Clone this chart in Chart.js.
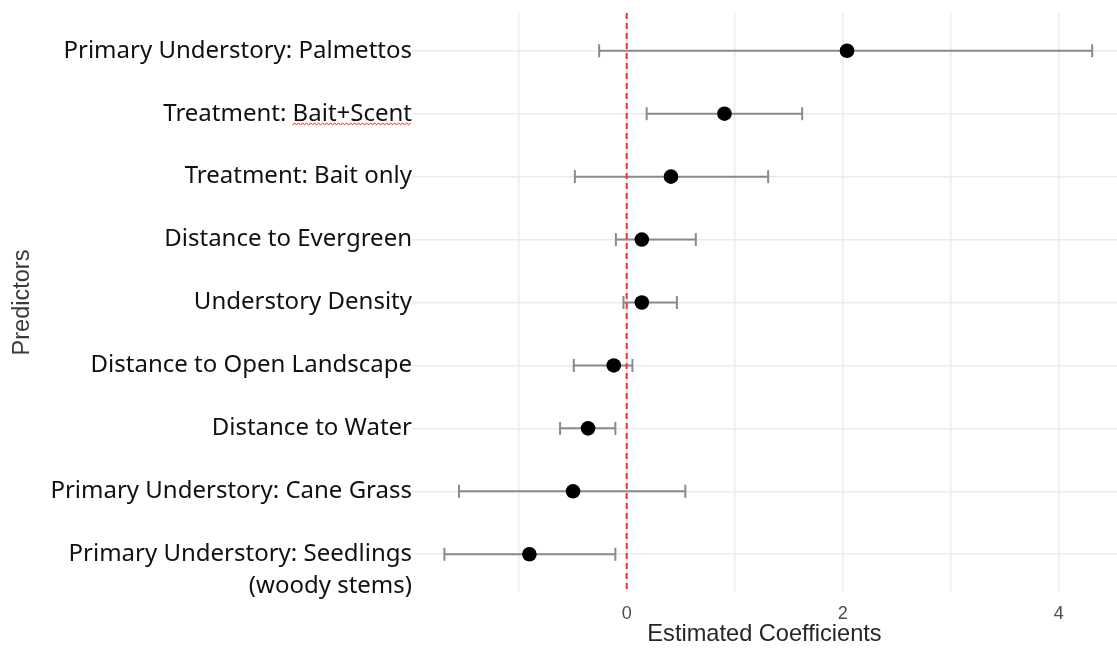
<!DOCTYPE html>
<html>
<head>
<meta charset="utf-8">
<script src="https://cdn.jsdelivr.net/npm/chart.js@4.4.1/dist/chart.umd.min.js"></script>
<style>
  html, body { margin: 0; padding: 0; background: #ffffff; }
  #wrap { width: 1117px; height: 651px; }
</style>
</head>
<body>
<div id="wrap"><canvas id="c" width="1117" height="651"></canvas></div>
<script>
// ---- data (top to bottom) ----
const predictors = [
  ['Primary Understory: Palmettos'],
  ['Treatment: Bait+Scent'],
  ['Treatment: Bait only'],
  ['Distance to Evergreen'],
  ['Understory Density'],
  ['Distance to Open Landscape'],
  ['Distance to Water'],
  ['Primary Understory: Cane Grass'],
  ['', 'Primary Understory: Seedlings', '(woody stems)']
];
const estimates = [2.04, 0.905, 0.41, 0.14, 0.14, -0.12, -0.358, -0.497, -0.901];
const lowerCI   = [-0.255, 0.185, -0.48, -0.10, -0.03, -0.49, -0.617, -1.553, -1.688];
const upperCI   = [4.31, 1.625, 1.31, 0.64, 0.465, 0.053, -0.105, 0.543, -0.105];
const xTickValues = [-1, 0, 1, 2, 3, 4];
const xTickLabels = ['', '0', '', '2', '', '4'];
const referenceValue = 0;

const GREY = '#8a8a8a';

const errorBarSets = predictors.map((p, i) => ({
  type: 'scatter',
  showLine: true,
  data: [{x: lowerCI[i], y: i}, {x: upperCI[i], y: i}],
  borderColor: GREY,
  borderWidth: 2,
  pointStyle: 'line',
  rotation: 90,
  pointRadius: 6.5,
  pointBorderColor: GREY,
  pointBorderWidth: 2,
  pointHoverRadius: 6.5,
  order: 3
}));

const zeroLine = {
  type: 'scatter',
  showLine: true,
  data: [{x: referenceValue, y: -0.6}, {x: referenceValue, y: predictors.length - 0.4}],
  borderColor: '#ff2d2d',
  borderWidth: 2,
  borderDash: [6, 4],
  pointRadius: 0,
  order: 2
};

const pointSet = {
  type: 'scatter',
  data: estimates.map((v, i) => ({x: v, y: i})),
  backgroundColor: '#000000',
  borderWidth: 0,
  pointRadius: 7.3,
  pointHoverRadius: 7.3,
  order: 1
};

const squiggle = {
  id: 'squiggle',
  afterDraw(chart) {
    const ys = chart.scales.y;
    const ctx = chart.ctx;
    const f = ys.options.ticks.font;
    ctx.save();
    ctx.font = f.size + 'px ' + f.family;
    const word = 'Bait+Scent';
    const w = ctx.measureText(word).width;
    const xr = ys.right - ys.options.ticks.padding;
    const xl = xr - w;
    const y = ys.getPixelForValue(1) + 11;
    ctx.strokeStyle = '#e8201c';
    ctx.lineWidth = 1;
    ctx.beginPath();
    let up = true;
    ctx.moveTo(xl, y);
    for (let x = xl + 2; x <= xr; x += 2) {
      ctx.lineTo(x, up ? y - 1.5 : y);
      up = !up;
    }
    ctx.stroke();
    ctx.restore();
  }
};

new Chart(document.getElementById('c'), {
  type: 'scatter',
  data: { datasets: [...errorBarSets, zeroLine, pointSet] },
  plugins: [squiggle],
  options: {
    responsive: false,
    animation: false,
    devicePixelRatio: 1,
    layout: { autoPadding: false, padding: { top: 13, right: 0, left: 0, bottom: 0 } },
    plugins: { legend: { display: false }, tooltip: { enabled: false } },
    scales: {
      x: {
        type: 'linear',
        min: -1.988,
        max: 4.54,
        afterBuildTicks(s) { s.ticks = xTickValues.map(v => ({value: v})); },
        afterFit(s) { s.height = 59; s.paddingLeft = 0; s.paddingRight = 0; },
        grid: { color: '#ebebeb', lineWidth: 1.5, drawTicks: false },
        border: { display: false },
        ticks: {
          autoSkip: false,
          maxRotation: 0,
          padding: 11,
          color: '#4d4d4d',
          font: { family: "'Liberation Sans', Arial", size: 18 },
          callback(v, idx) { return xTickLabels[idx]; }
        },
        title: {
          display: true,
          text: 'Estimated Coefficients',
          color: '#262626',
          padding: { top: 0, bottom: 2 },
          font: { family: "'Liberation Sans', Arial", size: 23.6 }
        }
      },
      y: {
        type: 'linear',
        reverse: true,
        min: -0.6,
        max: predictors.length - 0.4,
        afterBuildTicks(s) { s.ticks = predictors.map((p, i) => ({value: i})); },
        afterFit(s) { s.width = 412; s.paddingTop = 0; s.paddingBottom = 0; },
        grid: { color: '#ebebeb', lineWidth: 1.5, drawTicks: false },
        border: { display: false },
        ticks: {
          autoSkip: false,
          padding: 0,
          color: '#111111',
          font: { family: "'Noto Sans', 'Open Sans', sans-serif", size: 24, lineHeight: 1.31 },
          callback(v) { return predictors[Math.round(v)]; }
        },
        title: {
          display: true,
          text: 'Predictors',
          color: '#3a3a3a',
          padding: { top: 8, bottom: 0 },
          font: { family: "'Liberation Sans', Arial", size: 23.5 }
        }
      }
    }
  }
});
</script>
</body>
</html>
